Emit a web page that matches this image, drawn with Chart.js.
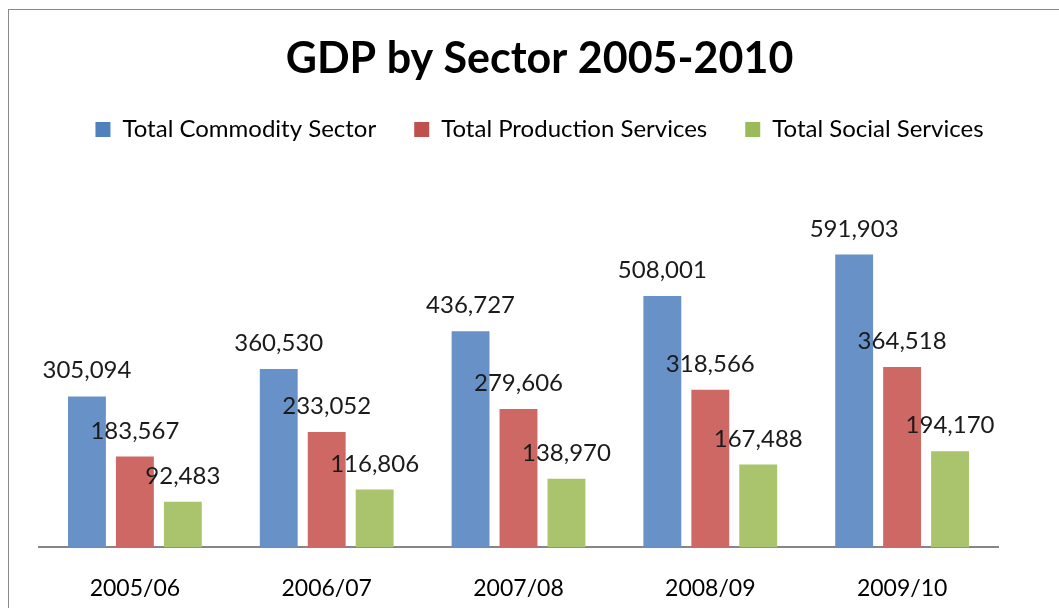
<!DOCTYPE html>
<html><head><meta charset="utf-8">
<script src="https://cdn.jsdelivr.net/npm/chart.js@4.4.0/dist/chart.umd.min.js"></script>
<style>
html,body{margin:0;padding:0;background:#fff;overflow:hidden;width:1059px;height:608px;}
#frame{position:absolute;left:8px;top:9px;width:1062px;height:640px;border-left:1px solid #8a8a8a;border-top:1px solid #8a8a8a;}
#wrap{position:absolute;left:0;top:0;width:1061px;height:625px;}
</style></head>
<body>
<div id="frame"><div id="wrap"><canvas id="c"></canvas></div></div>
<script>
const categories = ['2005/06','2006/07','2007/08','2008/09','2009/10'];
const commodity = [305094, 360530, 436727, 508001, 591903];
const production = [183567, 233052, 279606, 318566, 364518];
const social = [92483, 116806, 138970, 167488, 194170];
const seriesNames = ['Total Commodity Sector','Total Production Services','Total Social Services'];
const barColors = ['#6892C7','#CD6865','#A9C46C'];
const legendColors = ['#4F81BD','#C0504D','#9BBB59'];

const valueLabels = {
  id: 'valueLabels',
  afterDatasetsDraw(chart) {
    const ctx = chart.ctx;
    ctx.save();
    ctx.font = '24px Lato';
    ctx.fillStyle = '#1a1a1a';
    ctx.textAlign = 'center';
    ctx.textBaseline = 'alphabetic';
    chart.data.datasets.forEach((ds, i) => {
      chart.getDatasetMeta(i).data.forEach((bar, j) => {
        ctx.fillText(ds.data[j].toLocaleString('en-US'), bar.x, bar.y - 18);
      });
    });
    ctx.restore();
  }
};

function build() {
  new Chart(document.getElementById('c'), {
    type: 'bar',
    data: {
      labels: categories,
      datasets: [
        { label: seriesNames[0], data: commodity, backgroundColor: barColors[0] },
        { label: seriesNames[1], data: production, backgroundColor: barColors[1] },
        { label: seriesNames[2], data: social, backgroundColor: barColors[2] }
      ]
    },
    options: {
      responsive: true,
      maintainAspectRatio: false,
      animation: false,
      events: [],
      datasets: { bar: { categoryPercentage: 0.75, barPercentage: 0.79 } },
      layout: { padding: { left: 0, right: 0, top: 0, bottom: 6 } },
      plugins: {
        title: {
          display: true,
          text: 'GDP by Sector 2005-2010',
          color: '#000',
          font: { family: 'Lato', size: 43, weight: 'bold' },
          padding: { top: 23, bottom: -5 }
        },
        legend: {
          display: true,
          position: 'top',
          labels: {
            color: '#000',
            font: { family: 'Lato', size: 24 },
            boxWidth: 15,
            boxHeight: 15,
            padding: 38,
            generateLabels(chart) {
              return chart.data.datasets.map((ds, i) => ({
                text: ds.label,
                fillStyle: legendColors[i],
                strokeStyle: legendColors[i],
                lineWidth: 0,
                datasetIndex: i,
                hidden: false
              }));
            }
          }
        },
        tooltip: { enabled: false }
      },
      scales: {
        x: {
          grid: { display: false, drawTicks: false },
          border: { display: true, color: '#868686', width: 2 },
          ticks: { color: '#000', font: { family: 'Lato', size: 23 }, padding: 27 }
        },
        y: {
          display: true,
          position: 'left',
          min: 0,
          max: 800000,
          grid: { display: false, drawTicks: false },
          border: { display: false },
          ticks: { display: false },
          afterFit(scale) { scale.width = 30; }
        },
        yRight: {
          type: 'linear',
          display: true,
          position: 'right',
          min: 0,
          max: 800000,
          grid: { display: false, drawTicks: false },
          border: { display: false },
          ticks: { display: false },
          afterFit(scale) { scale.width = 72; }
        }
      }
    },
    plugins: [valueLabels]
  });
}
document.fonts.load('24px Lato').then(() => document.fonts.load('bold 43px Lato')).then(build, build);
</script>
</body></html>
